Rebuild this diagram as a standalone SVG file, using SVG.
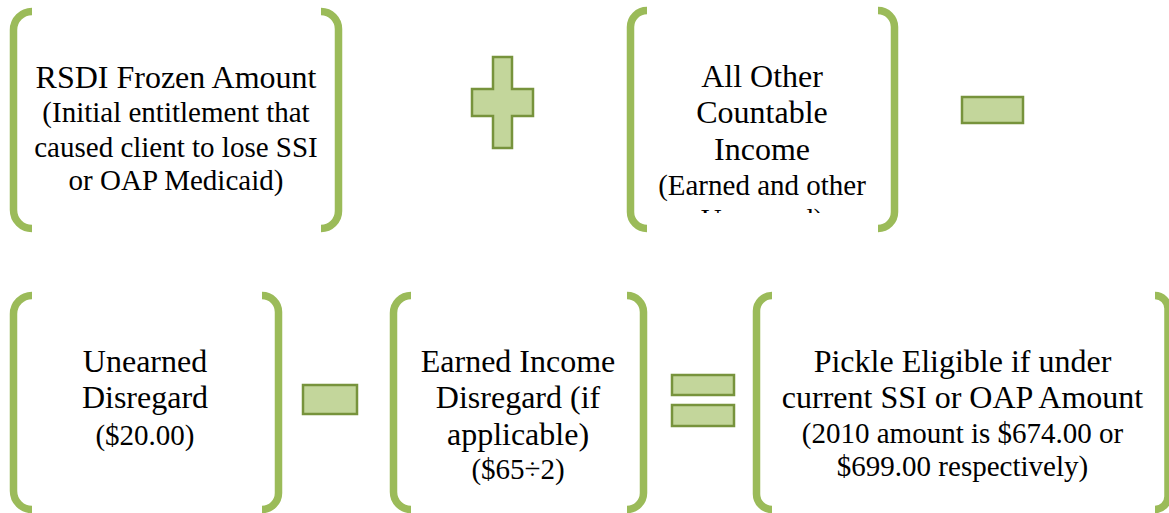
<svg xmlns="http://www.w3.org/2000/svg" width="1169" height="513" viewBox="0 0 1169 513">
<style>
.br{fill:none;stroke:#9bbb59;stroke-width:7.5}
.op{fill:#c3d69b;stroke:#77933c;stroke-width:2.5}
text{font-family:'Liberation Serif','Times New Roman',serif;fill:#000;text-anchor:middle}
.l{font-size:32px}
.s{font-size:29px}
</style>
<defs>
<clipPath id="clip2"><rect x="627" y="0" width="272" height="213"/></clipPath>
</defs>
<rect width="1169" height="513" fill="#fff"/>
<g id="node-rsdi">
<path class="br" d="M32,11.5 A18.5,18.5 0 0 0 13.5,30 L13.5,210 A18.5,18.5 0 0 0 32,228.5"/>
<path class="br" d="M321,11.5 A17.5,17.5 0 0 1 338.5,29 L338.5,211 A17.5,17.5 0 0 1 321,228.5"/>
<text class="l" x="176" y="88">RSDI Frozen Amount</text>
<text class="s" x="176" y="122">(Initial entitlement that</text>
<text class="s" x="176" y="157">caused client to lose SSI</text>
<text class="s" x="176" y="190">or OAP Medicaid)</text>
</g>
<g id="node-other-income">
<path class="br" d="M647,10.5 A16.5,16.5 0 0 0 630.5,27 L630.5,212 A16.5,16.5 0 0 0 647,228.5"/>
<path class="br" d="M878,10.5 A16.5,16.5 0 0 1 894.5,27 L894.5,212 A16.5,16.5 0 0 1 878,228.5"/>
<text class="l" x="762" y="87">All Other</text>
<text class="l" x="762" y="123">Countable</text>
<text class="l" x="762" y="160">Income</text>
<text class="s" x="762" y="195">(Earned and other</text>
<g clip-path="url(#clip2)"><text class="s" x="762" y="229">Unearned)</text></g>
</g>
<g id="node-unearned">
<path class="br" d="M32,295.5 A18.5,18.5 0 0 0 13.5,314 L13.5,491 A18.5,18.5 0 0 0 32,509.5"/>
<path class="br" d="M262,295.5 A16.5,16.5 0 0 1 278.5,312 L278.5,493 A16.5,16.5 0 0 1 262,509.5"/>
<text class="l" x="145" y="372">Unearned</text>
<text class="l" x="145" y="408">Disregard</text>
<text class="s" x="145" y="445">($20.00)</text>
</g>
<g id="node-earned">
<path class="br" d="M411,295.5 A17.5,17.5 0 0 0 393.5,313 L393.5,492 A17.5,17.5 0 0 0 411,509.5"/>
<path class="br" d="M627,295.5 A16.5,16.5 0 0 1 643.5,312 L643.5,493 A16.5,16.5 0 0 1 627,509.5"/>
<text class="l" x="518" y="372">Earned Income</text>
<text class="l" x="518" y="408">Disregard (if</text>
<text class="l" x="518" y="445">applicable)</text>
<text class="s" x="518" y="479">($65÷2)</text>
</g>
<g id="node-pickle">
<path class="br" d="M772,295.5 A15.5,15.5 0 0 0 756.5,311 L756.5,494 A15.5,15.5 0 0 0 772,509.5"/>
<path class="br" d="M1155,295.5 A13,13 0 0 1 1168,308.5 L1168,496.5 A13,13 0 0 1 1155,509.5"/>
<text class="l" x="962.5" y="372">Pickle Eligible if under</text>
<text class="l" x="962.5" y="408">current SSI or OAP Amount</text>
<text class="s" x="962.5" y="443">(2010 amount is $674.00 or</text>
<text class="s" x="962.5" y="476">$699.00 respectively)</text>
</g>
<g id="operators">
<path class="op" d="M493,57 H512 V89 H533 V116 H512 V148 H493 V116 H472 V89 H493 Z"/>
<rect class="op" x="962" y="97" width="61" height="26"/>
<rect class="op" x="303" y="385" width="54" height="29"/>
<rect class="op" x="672" y="375" width="62" height="20"/>
<rect class="op" x="672" y="405" width="62" height="21"/>
</g>
</svg>
